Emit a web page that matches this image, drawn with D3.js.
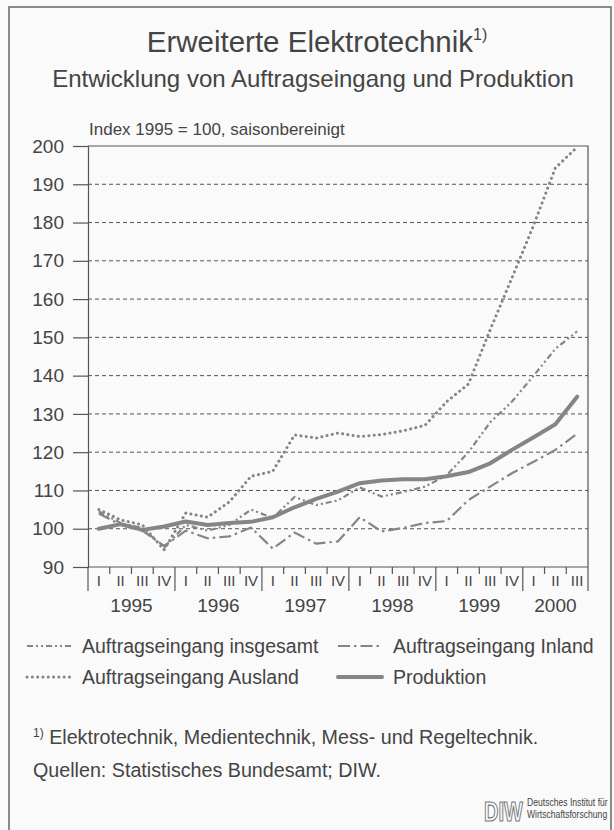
<!DOCTYPE html>
<html>
<head>
<meta charset="utf-8">
<script src="https://cdn.jsdelivr.net/npm/d3@7"></script>
<style>
    body { margin: 0; background: #fafafa; }
    svg { display: block; font-family: "Liberation Sans", Arial, sans-serif; }
</style>
</head>
<body>
<svg id="chart" width="614" height="830"></svg>
<script>
// quarters 1995 I .. 2000 III
var quarters = ["1995 I", "1995 II", "1995 III", "1995 IV",
                "1996 I", "1996 II", "1996 III", "1996 IV",
                "1997 I", "1997 II", "1997 III", "1997 IV",
                "1998 I", "1998 II", "1998 III", "1998 IV",
                "1999 I", "1999 II", "1999 III", "1999 IV",
                "2000 I", "2000 II", "2000 III"];
var years = ["1995", "1996", "1997", "1998", "1999", "2000"];
var yTicks = [90, 100, 110, 120, 130, 140, 150, 160, 170, 180, 190, 200];

var insgesamt = [104.5, 101.5, 100.2, 95, 101, 99.5, 101, 105, 102.8, 108.3, 106.2, 107.4,
                 110.8, 108.4, 109.6, 111, 114, 120, 127.8, 133.2, 140, 147, 151.6];
var inland = [104, 101, 99.5, 95.5, 99.5, 97.5, 98, 100.3, 94.8, 99, 96.1, 96.7,
              103, 99.3, 100.2, 101.5, 102, 107.5, 111, 114.5, 117.5, 120.6, 124.8];
var ausland = [105, 102.3, 101, 94.5, 104.1, 103, 107, 113.7, 115, 124.5, 123.7, 125,
               124.1, 124.6, 125.6, 127, 133.2, 137.8, 152, 165.5, 179.3, 194.3, 199.7];
var produktion = [100, 101.2, 99.7, 100.6, 101.9, 101, 101.5, 101.8, 103, 105.6, 107.8, 109.7,
                  111.9, 112.6, 112.9, 112.9, 113.7, 114.8, 117.1, 120.6, 123.9, 127.3, 134.5];

var seriesNames = ["Auftragseingang insgesamt", "Auftragseingang Inland",
                   "Auftragseingang Ausland", "Produktion"];

var ink = "#444";
var lineGray = "#858585";

var styles = {
    "Auftragseingang insgesamt": { width: 2.2, dash: "6,3,2,3,2,3", cap: "butt" },
    "Auftragseingang Inland":    { width: 2.2, dash: "12,4,2.5,4", cap: "butt" },
    "Auftragseingang Ausland":   { width: 3, dash: "0.1,5.2", cap: "round" },
    "Produktion":                { width: 4, dash: null, cap: "round" }
};
var values = {
    "Auftragseingang insgesamt": insgesamt,
    "Auftragseingang Inland": inland,
    "Auftragseingang Ausland": ausland,
    "Produktion": produktion
};

var svg = d3.select("#chart");

var x = d3.scaleBand()
    .domain(quarters)
    .range([88, 588]);
var y = d3.scaleLinear()
    .domain([90, 200])
    .range([567, 146]);
var bw = x.bandwidth();

function applyStyle(sel, name) {
    var s = styles[name];
    sel.attr("fill", "none")
        .attr("stroke", lineGray)
        .attr("stroke-width", s.width)
        .attr("stroke-linecap", s.cap)
        .attr("stroke-linejoin", "round")
        .attr("stroke-dasharray", s.dash);
    return sel;
}

// frame
svg.append("path")
    .attr("d", "M9,830V7H611V830")
    .attr("fill", "none")
    .attr("stroke", "#666")
    .attr("stroke-width", 1.5);

// titles
var title = svg.append("text")
    .attr("x", 317)
    .attr("y", 52)
    .attr("text-anchor", "middle")
    .attr("font-size", 29.5)
    .attr("fill", ink)
    .text("Erweiterte Elektrotechnik");
title.append("tspan")
    .attr("font-size", 16)
    .attr("dy", -12)
    .text("1)");

svg.append("text")
    .attr("x", 313)
    .attr("y", 87)
    .attr("text-anchor", "middle")
    .attr("font-size", 24)
    .attr("fill", ink)
    .text("Entwicklung von Auftragseingang und Produktion");

svg.append("text")
    .attr("x", 89)
    .attr("y", 135)
    .attr("font-size", 17)
    .attr("fill", ink)
    .text("Index 1995 = 100, saisonbereinigt");

// grid
svg.append("g")
    .selectAll("line")
    .data(yTicks.filter(function (t) { return t > 90 && t < 200; }))
    .enter()
    .append("line")
    .attr("x1", 88)
    .attr("x2", 588)
    .attr("y1", function (d) { return y(d); })
    .attr("y2", function (d) { return y(d); })
    .attr("stroke", "#555")
    .attr("stroke-width", 1)
    .attr("stroke-dasharray", "4,3");

// plot box top / right
svg.append("path")
    .attr("d", "M88," + y(200) + "H588V" + y(90))
    .attr("fill", "none")
    .attr("stroke", "#555")
    .attr("stroke-width", 1.2);

// y axis
var yAxis = svg.append("g")
    .attr("transform", "translate(88,0)")
    .call(d3.axisLeft(y).tickValues(yTicks).tickSize(15).tickPadding(9));
yAxis.select(".domain").attr("stroke", "#555").attr("stroke-width", 1.2);
yAxis.selectAll(".tick line").attr("stroke", "#555").attr("stroke-width", 1.2);
yAxis.selectAll(".tick text")
    .attr("font-size", 19)
    .attr("font-family", "Liberation Sans, Arial, sans-serif")
    .attr("fill", ink);

// x axis
var xAxis = svg.append("g");
xAxis.append("line")
    .attr("x1", 88).attr("x2", 588)
    .attr("y1", y(90)).attr("y2", y(90))
    .attr("stroke", "#555").attr("stroke-width", 1.2);
xAxis.selectAll("line.qtick")
    .data(quarters)
    .enter()
    .append("line")
    .classed("qtick", true)
    .attr("x1", function (d) { return x(d); })
    .attr("x2", function (d) { return x(d); })
    .attr("y1", y(90))
    .attr("y2", function (d) { return / I$/.test(d) ? y(90) + 24 : y(90) + 7; })
    .attr("stroke", "#555")
    .attr("stroke-width", 1.2);
xAxis.append("line")
    .attr("x1", 588).attr("x2", 588)
    .attr("y1", y(90)).attr("y2", y(90) + 24)
    .attr("stroke", "#555").attr("stroke-width", 1.2);
xAxis.selectAll("text.q")
    .data(quarters)
    .enter()
    .append("text")
    .classed("q", true)
    .attr("x", function (d) { return x(d) + bw / 2; })
    .attr("y", y(90) + 19)
    .attr("text-anchor", "middle")
    .attr("font-size", 15)
    .attr("fill", ink)
    .text(function (d) { return d.split(" ")[1]; });
xAxis.selectAll("text.year")
    .data(years)
    .enter()
    .append("text")
    .classed("year", true)
    .attr("x", function (yr) {
        var qs = quarters.filter(function (q) { return q.indexOf(yr) === 0; });
        return (x(qs[0]) + x(qs[qs.length - 1]) + bw) / 2;
    })
    .attr("y", y(90) + 45)
    .attr("text-anchor", "middle")
    .attr("font-size", 19)
    .attr("fill", ink)
    .text(function (d) { return d; });

// series
var line = d3.line()
    .x(function (d, i) { return x(quarters[i]) + bw / 2; })
    .y(function (d) { return y(d); });

seriesNames.forEach(function (name) {
    applyStyle(svg.append("path"), name)
        .attr("d", line(values[name]));
});

// legend
var legendPos = [
    { name: "Auftragseingang insgesamt", x: 25, y: 646 },
    { name: "Auftragseingang Inland", x: 336, y: 646 },
    { name: "Auftragseingang Ausland", x: 25, y: 677 },
    { name: "Produktion", x: 336, y: 677 }
];
legendPos.forEach(function (lp) {
    applyStyle(svg.append("line"), lp.name)
        .attr("x1", lp.x + 2).attr("x2", lp.x + 46)
        .attr("y1", lp.y).attr("y2", lp.y);
    svg.append("text")
        .attr("x", lp.x + 57)
        .attr("y", lp.y + 7)
        .attr("font-size", 19.5)
        .attr("fill", ink)
        .text(lp.name);
});

// footnotes
var fn = svg.append("text")
    .attr("x", 33)
    .attr("y", 744)
    .attr("font-size", 19.7)
    .attr("fill", ink);
fn.append("tspan").attr("font-size", 12).attr("dy", -7).text("1)");
fn.append("tspan").attr("dy", 7).text(" Elektrotechnik, Medientechnik, Mess- und Regeltechnik.");

svg.append("text")
    .attr("x", 33)
    .attr("y", 777)
    .attr("font-size", 19.7)
    .attr("fill", ink)
    .text("Quellen: Statistisches Bundesamt; DIW.");

// logo
svg.append("text")
    .attr("transform", "translate(484,821) scale(0.74,1)")
    .attr("font-size", 27)
    .attr("font-weight", "bold")
    .attr("fill", "#fafafa")
    .attr("stroke", "#777")
    .attr("stroke-width", 1.2)
    .text("DIW");
svg.append("text")
    .attr("transform", "translate(527,806) scale(0.86,1)")
    .attr("font-size", 10)
    .attr("fill", ink)
    .text("Deutsches Institut für");
svg.append("text")
    .attr("transform", "translate(527,818) scale(0.86,1)")
    .attr("font-size", 10)
    .attr("fill", ink)
    .text("Wirtschaftsforschung");
</script>
</body>
</html>
